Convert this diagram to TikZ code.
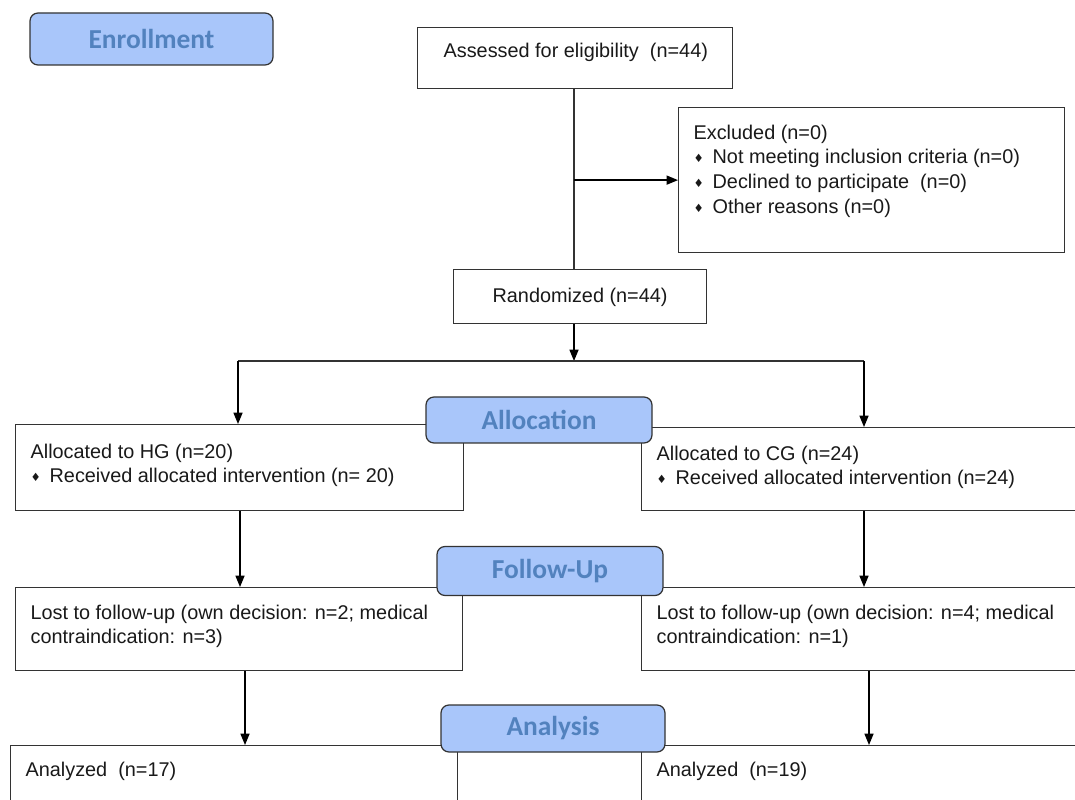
\documentclass[tikz,border=0pt]{standalone}
\usepackage{fontspec}
\setmainfont{Liberation Sans}
\newfontfamily\stagefont{Carlito}
\newfontfamily\symfont{DejaVu Sans}
\usetikzlibrary{arrows.meta}
\definecolor{stagefill}{HTML}{A9C6FA}
\definecolor{stagetext}{HTML}{5282BE}
\definecolor{boxline}{HTML}{333333}

\begin{document}
\begin{tikzpicture}[
  >={Triangle[length=6.5pt, width=5.2pt]},
  line width=.7pt,
  flow/.style={draw=boxline, inner sep=0, anchor=north west},
  stage/.style={draw=boxline, fill=stagefill, rounded corners=.16cm, text=stagetext,
    font=\stagefont\bfseries\fontsize{15.6}{18}\selectfont},
  txt/.style={inner sep=0, align=left, text=black!90, font=\fontsize{11.3}{14.2}\selectfont}
]
\def\bul{{\symfont\fontsize{6.5}{7}\selectfont\raisebox{.2ex}{♦}}\hspace{5pt}}
\clip (0, 0) rectangle (21.5cm, -16cm);

\node [flow, minimum width = 6.3cm, minimum height = 1.22cm] (assess) at (8.34cm, -.54cm) {};
\node [flow, minimum width = 7.72cm, minimum height = 2.9cm] (excl) at (13.56cm, -2.14cm) {};
\node [flow, minimum width = 5.06cm, minimum height = 1.08cm] (rand) at (9.06cm, -5.38cm) {};
\node [flow, minimum width = 8.96cm, minimum height = 1.72cm] (hg) at (.3cm, -8.48cm) {};
\node [flow, minimum width = 9cm, minimum height = 1.66cm] (cg) at (12.82cm, -8.54cm) {};
\node [flow, minimum width = 8.94cm, minimum height = 1.66cm] (losthg) at (.3cm, -11.74cm) {};
\node [flow, minimum width = 9cm, minimum height = 1.66cm] (lostcg) at (12.82cm, -11.74cm) {};
\node [flow, minimum width = 8.94cm, minimum height = 1.6cm] (anahg) at (.2cm, -14.9cm) {};
\node [flow, minimum width = 9cm, minimum height = 1.6cm] (anacg) at (12.82cm, -14.9cm) {};

\node [txt, anchor = west] at (8.86cm, -1.04cm) {Assessed for eligibility \ (n=44)};
\node [txt, anchor = north west] at (13.86cm, -2.48cm)
  {Excluded (n=0)\\ \bul Not meeting inclusion criteria (n=0)\\ \bul Declined to participate \ (n=0)\\ \bul Other reasons (n=0)};
\node [txt, anchor = west] at (9.84cm, -5.94cm) {Randomized (n=44)};
\node [txt, anchor = north west] at (.6cm, -8.86cm)
  {Allocated to HG (n=20)\\ \bul Received allocated intervention (n= 20)};
\node [txt, anchor = north west] at (13.12cm, -8.9cm)
  {Allocated to CG (n=24)\\ \bul Received allocated intervention (n=24)};
\node [txt, anchor = north west] at (.6cm, -12.08cm)
  {Lost to follow-up (own decision: n=2; medical\\ contraindication: n=3)};
\node [txt, anchor = north west] at (13.12cm, -12.08cm)
  {Lost to follow-up (own decision: n=4; medical\\ contraindication: n=1)};
\node [txt, anchor = west] at (.5cm, -15.42cm) {Analyzed \ (n=17)};
\node [txt, anchor = west] at (13.12cm, -15.42cm) {Analyzed \ (n=19)};

\coordinate (split) at (11.48cm, -7.22cm);
\coordinate (splitl) at (4.76cm, -7.22cm);
\coordinate (splitr) at (17.28cm, -7.22cm);
\coordinate (followl) at (4.8cm, 0);
\coordinate (followr) at (17.28cm, 0);
\coordinate (analysisl) at (4.9cm, 0);
\coordinate (analysisr) at (17.38cm, 0);

\draw [boxline] (split |- assess.south) -- (split |- rand.north);
\draw [->] (split |- excl.west) -- (excl.west);
\draw [->] (split |- rand.south) -- (split);
\draw [boxline] (splitl) -- (splitr);
\draw [->] (splitl) -- (splitl |- hg.north);
\draw [->] (splitr) -- (splitr |- cg.north);
\draw [->] (followl |- hg.south) -- (followl |- losthg.north);
\draw [->] (followr |- cg.south) -- (followr |- lostcg.north);
\draw [->] (analysisl |- losthg.south) -- (analysisl |- anahg.north);
\draw [->] (analysisr |- lostcg.south) -- (analysisr |- anacg.north);

\node [stage, minimum width = 4.86cm, minimum height = 1.04cm] (enroll) at (3.03cm, -.78cm) {Enrollment};
\node [stage, minimum width = 4.52cm, minimum height = .92cm] (alloc) at (10.78cm, -8.4cm) {Allocation};
\node [stage, minimum width = 4.52cm, minimum height = .98cm] (follow) at (11cm, -11.42cm) {Follow-Up};
\node [stage, minimum width = 4.48cm, minimum height = .94cm] (analysis) at (11.06cm, -14.57cm) {Analysis};
\end{tikzpicture}
\end{document}
